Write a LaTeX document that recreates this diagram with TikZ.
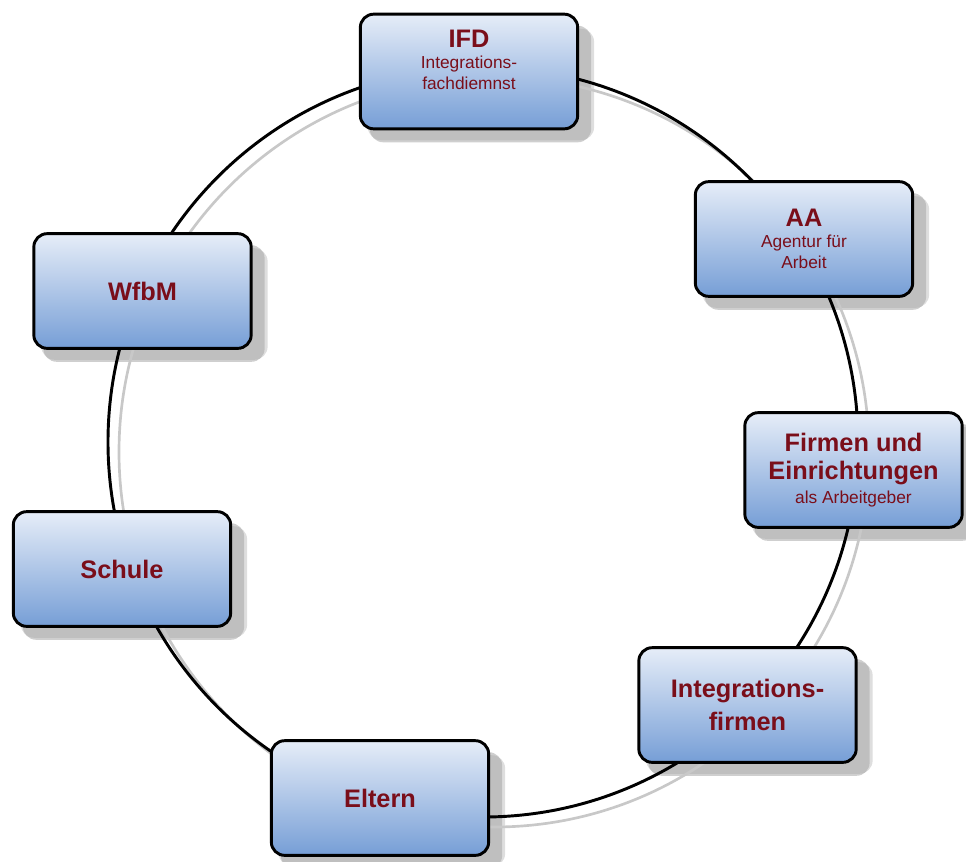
\documentclass[tikz,border=0pt]{standalone}
\usepackage{fontspec}
\setmainfont{Liberation Sans}
\pgfdeclarelayer{shadowlayer}
\pgfdeclarelayer{circlelayer}
\pgfsetlayers{shadowlayer,circlelayer,main}
\definecolor{txtred}{RGB}{122,14,26}
\definecolor{boxtop}{RGB}{230,237,248}
\definecolor{boxbot}{RGB}{118,158,214}
\definecolor{ringshadow}{RGB}{200,200,200}
\definecolor{boxshadow}{RGB}{160,160,160}
\newcommand\ttlfont{\fontsize{19}{15.75}\selectfont\bfseries}
\newcommand\subfont{\fontsize{13}{15.75}\selectfont\mdseries}
\tikzset{
  card/.style={draw=black, line width=2.2pt, rounded corners=10pt,
    minimum width=163pt, minimum height=86pt, top color=boxtop,
    bottom color=boxbot, text=txtred, align=center, inner sep=0pt,
    font=\fontsize{13}{15.75}\selectfont},
  cardshadow/.style={fill=boxshadow, rounded corners=10pt},
  ring/.style={line width=2.2pt, draw=black},
  ringshade/.style={line width=2pt, draw=ringshadow},
}
\begin{document}
\begin{tikzpicture}[x=0.75pt,y=-0.75pt]
\useasboundingbox (0,0) rectangle (966,861);
\coordinate (c) at (483,442);
\node[card] (ifd) at (469,71.5) {\ttlfont IFD\\[0pt]\subfont Integrations-\\\subfont fachdiemnst\\[2pt]};
\node[card] (aa) at (804,239) {\ttlfont AA\\[0pt]\subfont Agentur für\\\subfont Arbeit};
\node[card] (wfbm) at (142.5,291) {\ttlfont WfbM};
\node[card] (firmen) at (853.5,470) {\ttlfont Firmen und\\[5.25pt]\ttlfont Einrichtungen\\[2.25pt]\subfont als Arbeitgeber};
\node[card] (schule) at (122,569) {\ttlfont Schule};
\node[card] (intf) at (747.5,705) {\ttlfont Integrations-\\[6pt]\ttlfont firmen};
\node[card] (eltern) at (380,798) {\ttlfont Eltern};
\begin{pgfonlayer}{circlelayer}
\draw[ringshade] ([shift={(11,10)}]c) circle[radius=281.25pt];
\draw[ring] (c) circle[radius=281.25pt];
\end{pgfonlayer}
\begin{pgfonlayer}{shadowlayer}
\foreach \n in {ifd,aa,wfbm,firmen,schule,intf,eltern}{
  \fill[cardshadow, opacity=0.35] ([shift={(9,10)}]\n.south west) rectangle ([shift={(15,16)}]\n.north east);
  \fill[cardshadow, opacity=0.5] ([shift={(11,12)}]\n.south west) rectangle ([shift={(12,13)}]\n.north east);
}
\end{pgfonlayer}
\end{tikzpicture}
\end{document}
